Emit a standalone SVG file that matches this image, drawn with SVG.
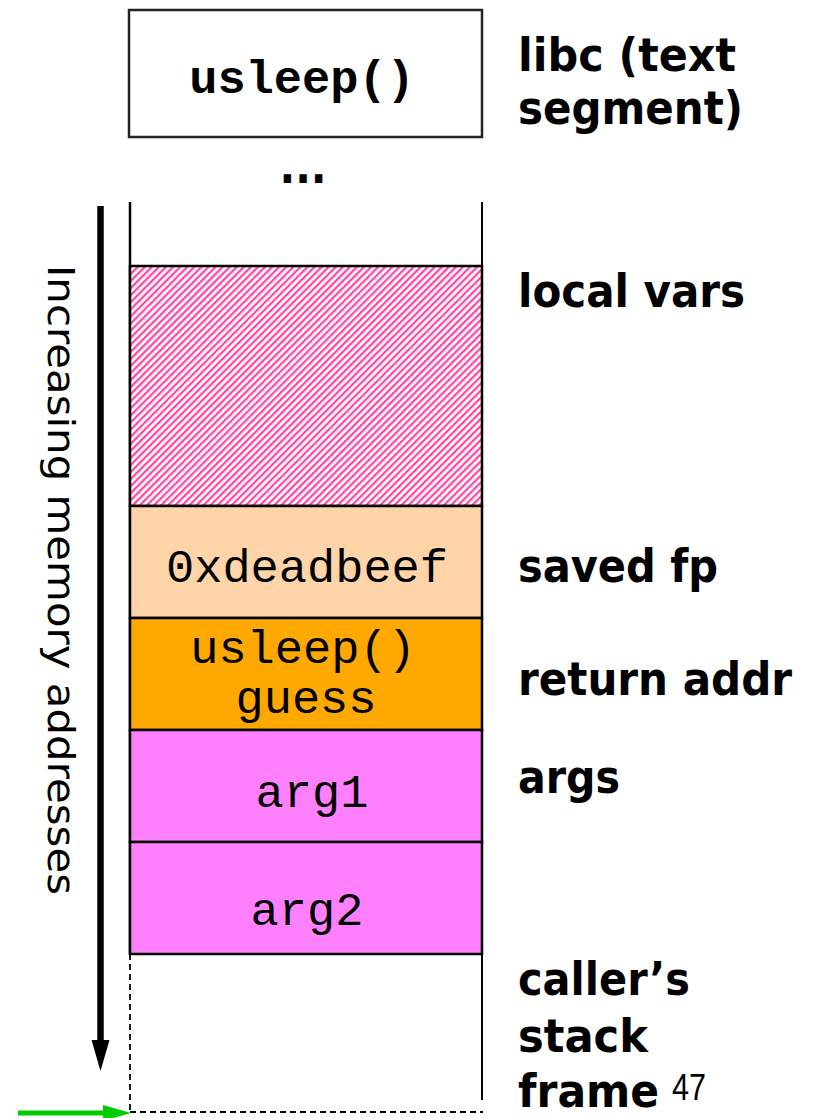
<svg xmlns="http://www.w3.org/2000/svg" width="813" height="1118" viewBox="0 0 813 1118">
<style>
.lbl{font-family:"DejaVu Sans Condensed","DejaVu Sans",Verdana,sans-serif;font-weight:bold;font-size:46px;fill:#000}
.mono{font-family:"Courier New","Liberation Mono",monospace;font-size:47px;fill:#000;text-anchor:middle}
.cell{stroke:#000;stroke-width:2.5}
</style>
<defs>
<pattern id="hatch" width="5" height="5" patternUnits="userSpaceOnUse" patternTransform="rotate(45)">
<rect width="5" height="5" fill="#fff"/>
<line x1="1.2" y1="0" x2="1.2" y2="5" stroke="#ff3fa0" stroke-width="2.2"/>
</pattern>
</defs>
<rect width="813" height="1118" fill="#fff"/>

<g id="libc-box">
<rect x="129" y="10" width="353" height="127" fill="#fff" stroke="#222" stroke-width="2.5"/>
<text x="302" y="93" class="mono" font-weight="bold">usleep()</text>
</g>
<g id="ellipsis">
<text x="303" y="183" class="lbl" text-anchor="middle" font-size="50">...</text>
</g>

<g id="stack-outline">
<line x1="130" y1="202" x2="130" y2="954" stroke="#000" stroke-width="2.5"/>
<line x1="482" y1="202" x2="482" y2="1100" stroke="#000" stroke-width="2"/>
<line x1="130" y1="954" x2="130" y2="1112" stroke="#000" stroke-width="1.8" stroke-dasharray="6,4"/>
<line x1="130" y1="1112" x2="483" y2="1112" stroke="#000" stroke-width="1.8" stroke-dasharray="6,4"/>
</g>

<g id="local-vars">
<rect x="130" y="266" width="352" height="240" fill="url(#hatch)" class="cell"/>
</g>
<g id="saved-fp">
<rect x="130" y="506" width="352" height="112" fill="#ffd4a8" class="cell"/>
<text x="307" y="582" class="mono">0xdeadbeef</text>
</g>
<g id="return-addr">
<rect x="130" y="618" width="352" height="112" fill="#ffa800" class="cell"/>
<text x="303" y="663" class="mono">usleep()</text>
<text x="306" y="713" class="mono">guess</text>
</g>
<g id="arg1">
<rect x="130" y="730" width="352" height="112" fill="#ff80ff" class="cell"/>
<text x="312" y="807" class="mono">arg1</text>
</g>
<g id="arg2">
<rect x="130" y="842" width="352" height="112" fill="#ff80ff" class="cell"/>
<text x="307" y="925" class="mono">arg2</text>
</g>

<g id="labels">
<text x="518" y="71" class="lbl" textLength="218" lengthAdjust="spacingAndGlyphs">libc (text</text>
<text x="518" y="124" class="lbl" textLength="225" lengthAdjust="spacingAndGlyphs">segment)</text>
<text x="518" y="307" class="lbl" textLength="227" lengthAdjust="spacingAndGlyphs">local vars</text>
<text x="518" y="582" class="lbl" textLength="200" lengthAdjust="spacingAndGlyphs">saved fp</text>
<text x="518" y="695" class="lbl" textLength="274" lengthAdjust="spacingAndGlyphs">return addr</text>
<text x="518" y="793" class="lbl" textLength="102" lengthAdjust="spacingAndGlyphs">args</text>
<text x="518" y="995" class="lbl" textLength="172" lengthAdjust="spacingAndGlyphs">caller’s</text>
<text x="518" y="1052" class="lbl" textLength="130" lengthAdjust="spacingAndGlyphs">stack</text>
<text x="518" y="1107" class="lbl" textLength="141" lengthAdjust="spacingAndGlyphs">frame</text>
<text x="672" y="1100" font-family="'Liberation Sans',Arial,sans-serif" font-size="36" textLength="34" lengthAdjust="spacingAndGlyphs">47</text>
</g>

<g id="axis-label">
<text transform="translate(48,265) rotate(90)" x="0" y="0" font-family="'DejaVu Sans',Verdana,sans-serif" font-size="38" textLength="630" lengthAdjust="spacingAndGlyphs">Increasing memory addresses</text>
</g>

<g id="connectors">
<line x1="100.5" y1="206" x2="100.5" y2="1042" stroke="#000" stroke-width="6.5"/>
<polygon points="91.5,1040 109.5,1040 100.5,1071" fill="#000"/>
<line x1="18" y1="1113" x2="106" y2="1113" stroke="#00cc00" stroke-width="5"/>
<polygon points="103,1105 131,1113 103,1121" fill="#00cc00"/>
</g>
</svg>
